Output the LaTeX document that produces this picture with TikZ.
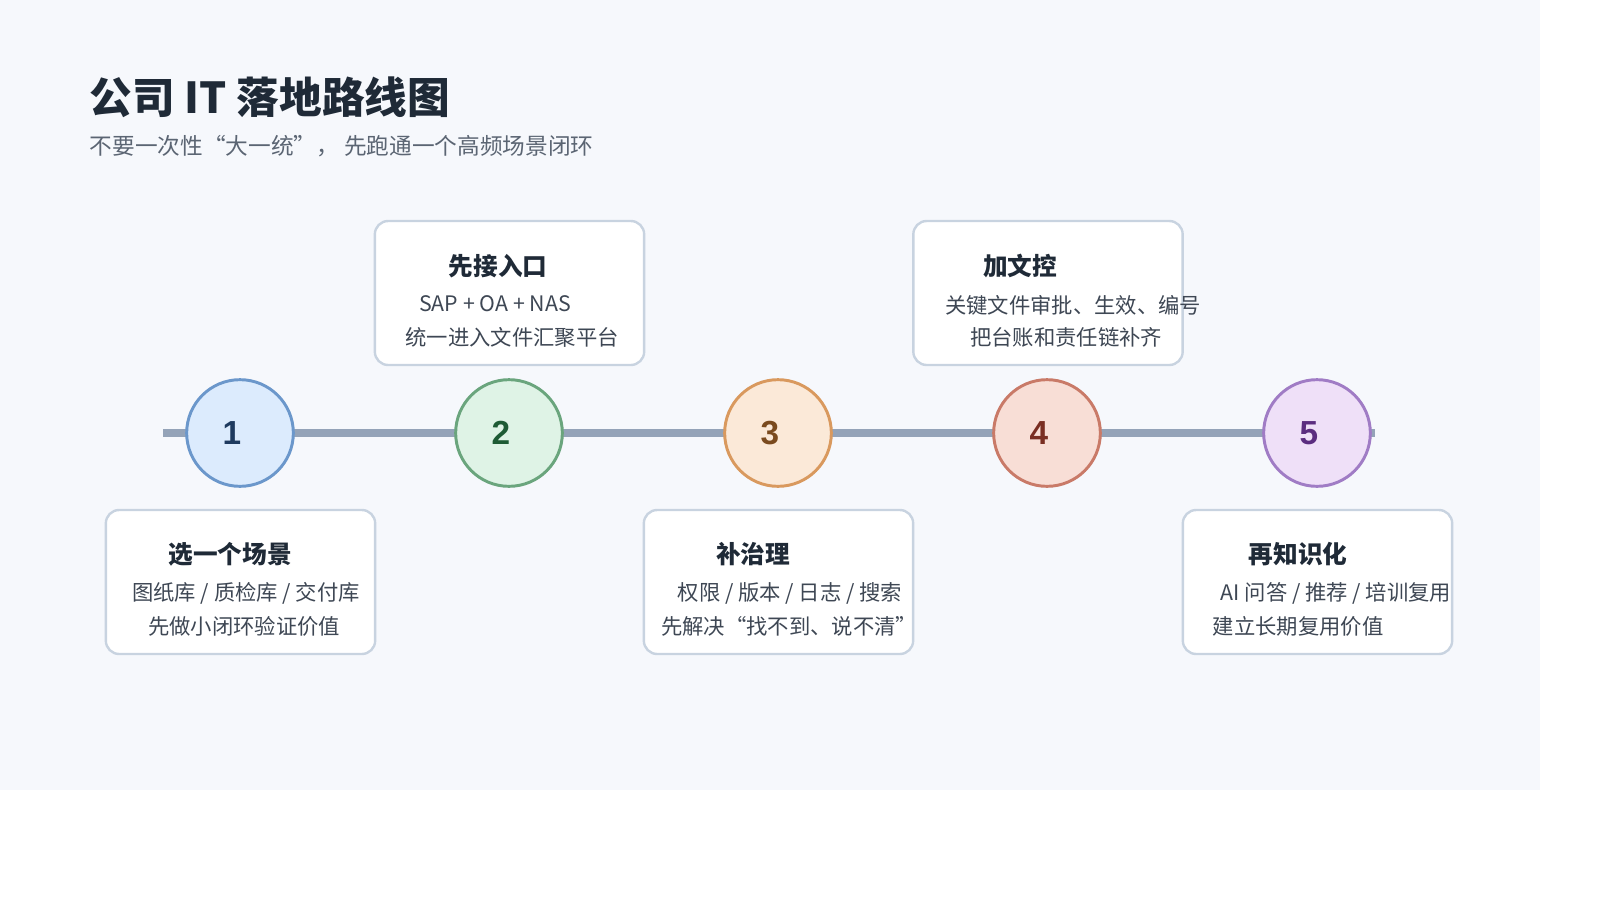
\documentclass[tikz,border=0pt]{standalone}
\usepackage{fontspec}
\setmainfont{Noto Sans CJK SC}
\newfontfamily\numf{Liberation Sans}
\definecolor{bg}{HTML}{F6F8FC}
\definecolor{ttl}{HTML}{1F2A37}
\definecolor{sub}{HTML}{5B6573}
\definecolor{line}{HTML}{94A3B8}
\definecolor{bxb}{HTML}{C8D3E0}
\definecolor{txt}{HTML}{3E4754}
\begin{document}
\begin{tikzpicture}[x=0.75pt,y=-0.75pt,
 box/.style={draw=bxb,line width=1.8pt,fill=white,rounded corners=10pt,minimum width=202pt,minimum height=108pt},
 circ/.style={circle,line width=2.2pt,minimum size=80pt,inner sep=0pt},
 bt/.style={font=\bfseries\fontsize{18.5}{18}\selectfont,text=ttl},
 bl/.style={font=\fontsize{16}{16}\selectfont,text=txt}]
\useasboundingbox (0,0) rectangle (1600,900);
\fill[white] (0,0) rectangle (1600,900);
\fill[bg] (0,0) rectangle (1540,790);
\node[anchor=west,font=\bfseries\fontsize{32}{32}\selectfont,text=ttl] (title) at (85,97) {公司 IT 落地路线图};
\node[anchor=west,font=\fontsize{17}{17}\selectfont,text=sub] (subt) at (85,146) {不要一次性“大一统”， 先跑通一个高频场景闭环};
\coordinate (ls) at (163,433); \coordinate (le) at (1375,433);
\draw[line,line width=6pt] (ls) -- (le);
\foreach \i/\x/\f/\b/\t in {1/240/DCEBFD/6B97CB/1E3A5F,2/509/DFF3E6/6AA57D/1E5B35,3/778/FBE9D8/D9995E/7A4A1E,4/1047/F8DED6/C97A68/7A2E22,5/1317/EFE0F8/A07CC5/5B2D80}{
 \definecolor{cf}{HTML}{\f}\definecolor{cb}{HTML}{\b}\definecolor{ct}{HTML}{\t}
 \node[circ,fill=cf,draw=cb] (c\i) at (\x,433) {};
 \node[text=ct,font=\numf\bfseries\fontsize{25}{25}\selectfont] (n\i) at (\x-8,433) {\i};
}
\node[box] (b2) at (509.5,293) {};
\node[bt] (t2) at (498,266) {先接入口};
\node[bl] (l2a) at (495,304) {SAP + OA + NAS};
\node[bl] (l2b) at (512,337) {统一进入文件汇聚平台};
\node[box] (b4) at (1048,293) {};
\node[bt] (t4) at (1020,266) {加文控};
\node[bl] (l4a) at (1073,305) {关键文件审批、生效、编号};
\node[bl] (l4b) at (1066,337) {把台账和责任链补齐};
\node[box] (b1) at (240.5,582) {};
\node[bt] (t1) at (230,554) {选一个场景};
\node[bl] (l1a) at (246,593) {图纸库 / 质检库 / 交付库};
\node[bl] (l1b) at (244,626) {先做小闭环验证价值};
\node[box] (b3) at (778.5,582) {};
\node[bt] (t3) at (753,554) {补治理};
\node[bl] (l3a) at (790,593) {权限 / 版本 / 日志 / 搜索};
\node[bl] (l3b) at (789,626) {先解决“找不到、说不清”};
\node[box] (b5) at (1317.5,582) {};
\node[bt] (t5) at (1298,554) {再知识化};
\node[bl] (l5a) at (1336,593) {AI 问答 / 推荐 / 培训复用};
\node[bl] (l5b) at (1298,626) {建立长期复用价值};
\end{tikzpicture}
\end{document}
